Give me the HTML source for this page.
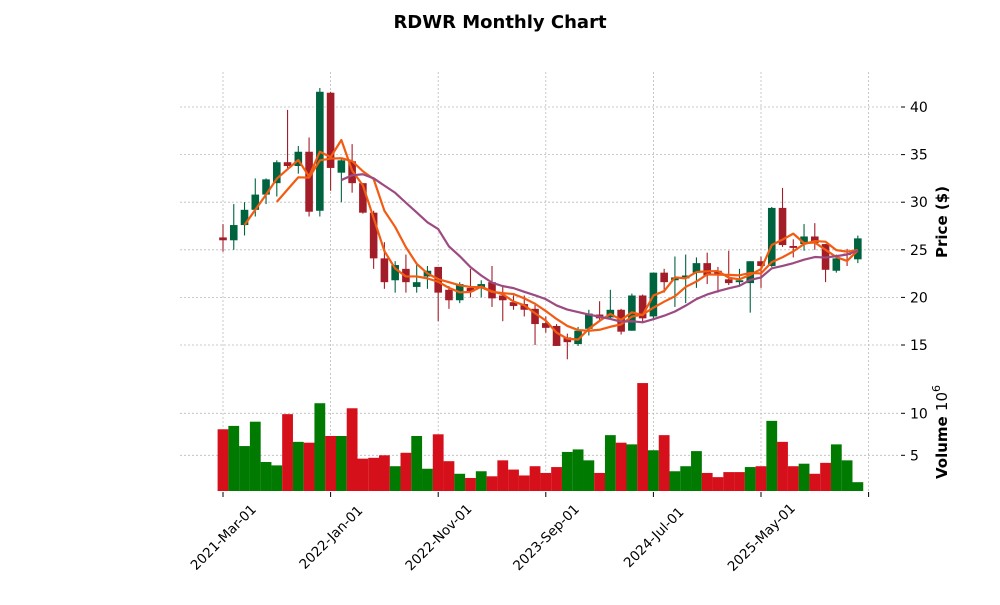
<!DOCTYPE html>
<html><head><meta charset="utf-8"><style>
body{margin:0;background:#fff;}
svg text{font-family:"DejaVu Sans","Liberation Sans",sans-serif;}
</style></head><body>
<svg id="c" width="1000" height="600" xmlns="http://www.w3.org/2000/svg">
<text x="500" y="28" text-anchor="middle" font-size="18" font-weight="bold">RDWR Monthly Chart</text>
<g id="grid"></g><g id="vol"></g><g id="candles"></g><g id="ma"></g><g id="axes"></g>
<text transform="translate(947,222) rotate(-90)" text-anchor="middle" font-size="15" font-weight="bold">Price ($)</text>
<text transform="translate(947,432) rotate(-90)" text-anchor="middle" font-size="15" font-weight="bold">Volume <tspan font-weight="normal">10</tspan><tspan font-weight="normal" font-size="11" dy="-7">6</tspan></text>
</svg>
<script>
const opens=[26.3,26.0,27.6,29.2,30.8,32.0,34.2,33.8,35.3,29.1,41.5,33.1,34.3,32.0,28.9,24.1,21.8,23.0,21.1,22.2,23.2,20.8,19.7,21.0,21.0,21.6,20.2,19.5,19.3,18.8,17.3,17.0,15.8,15.1,16.7,18.2,17.9,18.7,16.5,20.2,18.0,22.6,21.8,22.0,22.6,23.6,22.8,21.9,21.6,21.5,23.8,23.3,29.4,25.4,25.6,26.4,25.6,22.8,24.6,24.0];
const highs=[27.7,29.8,30.0,32.5,32.5,34.4,39.7,35.9,36.8,42.0,41.6,34.6,36.1,32.0,29.1,25.8,23.8,24.5,23.4,23.3,23.2,21.2,21.6,23.0,21.8,23.3,21.3,20.2,20.2,19.2,18.0,17.2,16.2,16.9,18.7,19.6,20.8,18.8,20.4,20.3,22.6,23.0,24.3,24.5,24.2,24.7,23.2,24.9,23.0,23.8,24.3,29.5,31.5,26.1,27.7,27.8,25.6,24.5,25.1,26.5];
const lows=[24.8,25.0,26.5,28.5,29.8,30.6,33.5,33.0,28.5,28.5,31.2,30.0,31.0,28.8,23.0,20.9,20.5,20.5,20.5,20.9,17.5,18.8,19.4,20.0,20.0,19.0,17.5,18.7,18.0,15.0,16.3,14.9,13.5,14.9,16.0,17.4,17.7,16.1,16.5,17.4,17.8,20.5,19.0,19.4,21.0,21.4,20.5,21.3,21.3,18.4,21.0,23.2,25.3,24.2,24.9,25.0,21.6,22.6,23.3,23.6];
const closes=[26.0,27.6,29.2,30.8,32.4,34.2,33.8,35.3,29.0,41.6,33.6,34.4,32.0,28.9,24.1,21.6,23.4,21.6,21.6,22.8,20.5,19.7,21.4,20.6,21.4,19.9,19.7,19.1,18.7,17.2,16.8,14.9,15.3,16.5,18.3,17.8,18.7,16.4,20.2,17.8,22.6,21.6,22.1,22.3,23.6,22.3,22.4,21.5,21.8,23.8,23.3,29.4,25.5,25.2,26.4,25.7,22.9,24.1,24.5,26.2];
const volumes=[8.1,8.5,6.1,9.0,4.2,3.8,9.9,6.6,6.5,11.2,7.3,7.3,10.6,4.6,4.7,5.0,3.7,5.3,7.3,3.4,7.5,4.3,2.8,2.3,3.1,2.5,4.4,3.3,2.6,3.7,2.9,3.6,5.4,5.7,4.4,2.9,7.4,6.5,6.3,13.6,5.6,7.4,3.1,3.7,5.5,2.9,2.4,3.0,3.0,3.6,3.7,9.1,6.6,3.7,4.0,2.8,4.1,6.3,4.4,1.8];
const volUp=[0,1,1,1,1,1,0,1,0,1,0,1,0,0,0,0,1,0,1,1,0,0,1,0,1,0,0,0,0,0,0,0,1,1,1,0,1,0,1,0,1,0,1,1,1,0,0,0,0,1,0,1,0,0,1,0,0,1,1,1];
const priceTicks=[15,20,25,30,35,40];
const volTicks=[5,10];
const xTickIdx=[0,10,20,30,40,50];
const xTickLabels=["2021-Mar-01","2022-Jan-01","2022-Nov-01","2023-Sep-01","2024-Jul-01","2025-May-01"];
const maPeriods=[3,6,12];
const maColors=["#f25c12","#f25c12","#9c4a80"];

const NS="http://www.w3.org/2000/svg";
const L=180,R=898;
const x=i=>223+i*10.76;
const py=p=>107+(40-p)*9.52;
const vy=v=>455.3-(v-5)*8.4;
const VB=491;
function mk(t,a,parent){const e=document.createElementNS(NS,t);for(const k in a)e.setAttribute(k,a[k]);document.getElementById(parent).appendChild(e);return e;}
priceTicks.forEach(p=>{const g=mk('line',{x1:L,x2:R,y1:py(p),y2:py(p),stroke:'#bbb','stroke-dasharray':'2,2','stroke-width':0.8},'grid');


mk('line',{x1:901,x2:905,y1:py(p),y2:py(p),stroke:'#000'},'axes');
const l=mk('text',{x:910,y:py(p)+5,'font-size':14},'axes');l.textContent=p;

});
volTicks.forEach(v=>{const g=mk('line',{x1:L,x2:R,y1:vy(v),y2:vy(v),stroke:'#bbb','stroke-dasharray':'2,2','stroke-width':0.8},'grid');


mk('line',{x1:901,x2:905,y1:vy(v),y2:vy(v),stroke:'#000'},'axes');
const l=mk('text',{x:910,y:vy(v)+5,'font-size':14},'axes');l.textContent=v;

});
xTickIdx.concat([60]).forEach((i,k)=>{const xx=x(i);
const g=mk('line',{x1:xx,x2:xx,y1:72,y2:370,stroke:'#bbb','stroke-dasharray':'2,2','stroke-width':0.8},'grid');


mk('line',{x1:xx,x2:xx,y1:373,y2:491,stroke:'#bbb','stroke-dasharray':'2,2','stroke-width':0.8},'grid');
mk('line',{x1:xx,x2:xx,y1:492,y2:497,stroke:'#000'},'axes');
if(k<xTickLabels.length){const t=mk('text',{x:0,y:5,'font-size':13.5,'text-anchor':'middle',transform:`translate(${xx},${537}) rotate(-45)`},'axes');t.textContent=xTickLabels[k];

}});
volumes.forEach((v,i)=>{const r=mk('rect',{x:x(i)-5.4,y:vy(v),width:10.8,height:VB-vy(v),fill:volUp[i]?'#007a00':'#d5101b'},'vol');

});
opens.forEach((o,i)=>{const c=closes[i],up=c>=o,col=up?'#006340':'#a31d28';
const w=mk('line',{x1:x(i),x2:x(i),y1:py(highs[i]),y2:py(lows[i]),stroke:col,'stroke-width':1.1},'candles');


const top=py(Math.max(o,c)),h=Math.max(1.5,Math.abs(py(o)-py(c)));
const b=mk('rect',{x:x(i)-3.8,y:top,width:7.6,height:h,fill:col},'candles');

});
maPeriods.forEach((n,k)=>{const pts=[];for(let i=n-1;i<closes.length;i++){let s=0;for(let j=i-n+1;j<=i;j++)s+=closes[j];pts.push(x(i)+','+py(s/n));}
const p=mk('polyline',{points:pts.join(' '),fill:'none',stroke:maColors[k],'stroke-width':2.2,'stroke-linejoin':'round'},'ma');

});
</script>
</body></html>
